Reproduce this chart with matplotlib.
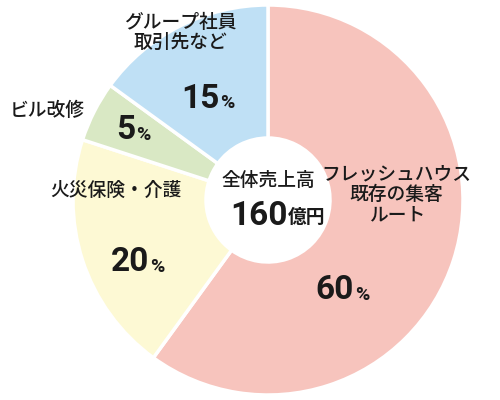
import matplotlib
matplotlib.use("Agg")
import matplotlib.pyplot as plt

plt.rcParams['font.family'] = ['Noto Sans CJK JP', 'DejaVu Sans']

labels = ["フレッシュハウス\n既存の集客\nルート", "火災保険・介護", "ビル改修", "グループ社員\n取引先など"]
values = [60, 20, 5, 15]
colors = ["#f7c4bd", "#fdf9d4", "#d9e8c4", "#bfe0f5"]
center_title = "全体売上高"
center_value = "160"
center_unit = "億円"

fig = plt.figure(figsize=(5, 4), dpi=100)
ax = fig.add_axes([0.146, 0.0125, 0.78, 0.975])
ax.pie(values, colors=colors, startangle=90, counterclock=False,
       wedgeprops=dict(width=1 - 62/195, edgecolor="white", linewidth=2.5))
ax.set_xlim(-1, 1); ax.set_ylim(-1, 1)
ax.set_aspect('equal')

label_pos = [(0.66, 0.03), (-0.78, 0.05), (-1.13, 0.46), (-0.45, 0.86)]
pct_pos = [(0.39, -0.46), (-0.66, -0.32), (-0.73, 0.36), (-0.30, 0.52)]
for lab, v, lp, pp in zip(labels, values, label_pos, pct_pos):
    ax.text(lp[0], lp[1], lab, ha='center', va='center', fontsize=13.5,
            fontweight='medium', linespacing=1.1, color="#1a1a1a", clip_on=False)
    ax.text(pp[0] + 0.05, pp[1], str(v), ha='right', va='center', fontsize=24,
            fontweight='bold', color="#1a1a1a", family=['Roboto', 'DejaVu Sans'])
    ax.text(pp[0] + 0.055, pp[1] - 0.025, "%", ha='left', va='center', fontsize=14,
            fontweight='bold', color="#1a1a1a", family=['Roboto', 'DejaVu Sans'])

ax.text(0, 0.1, center_title, ha='center', va='center', fontsize=13.5,
        fontweight='medium', color="#1a1a1a")
ax.text(0.1, -0.08, center_value, ha='right', va='center', fontsize=24,
        fontweight='bold', color="#1a1a1a", family=['Roboto', 'DejaVu Sans'])
ax.text(0.1, -0.09, center_unit, ha='left', va='center', fontsize=13.5,
        fontweight='bold', color="#1a1a1a")

fig.savefig("out.png", dpi=100)
